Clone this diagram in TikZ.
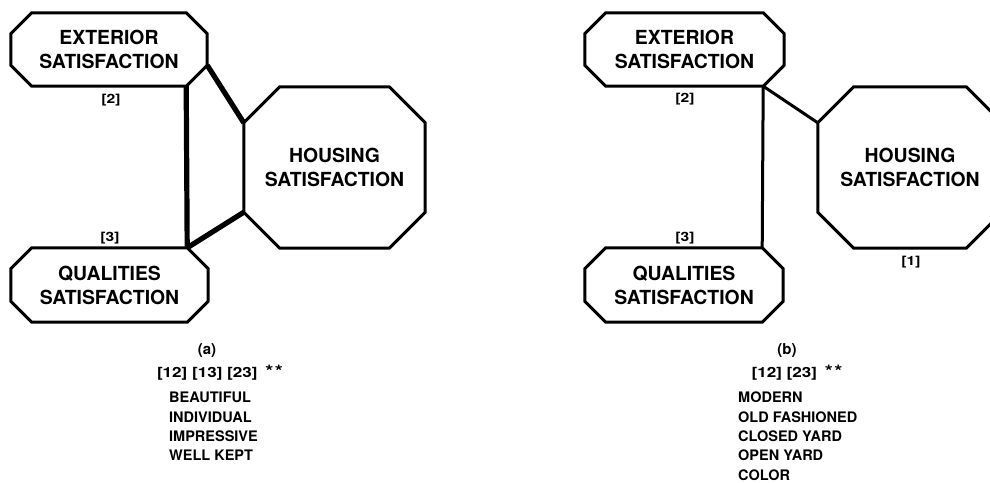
\documentclass[tikz,border=0pt]{standalone}
\usepackage{fontspec}
\setmainfont{TeX Gyre Heros}
\newfontfamily\tagfont[FakeStretch=1.22]{TeX Gyre Heros}
\usetikzlibrary{calc}

% Octagonal frame around a rectangular node: #1 node name, #2 chamfer (pt).
% Also names the eight corners so connectors can start from them.
\newcommand\octframe[2]{%
  \path (#1.north west) ++(#2pt,0pt)  coordinate (#1-nw1)
        (#1.north east) ++(-#2pt,0pt) coordinate (#1-ne1)
        (#1.north east) ++(0pt,-#2pt) coordinate (#1-ne2)
        (#1.south east) ++(0pt,#2pt)  coordinate (#1-se2)
        (#1.south east) ++(-#2pt,0pt) coordinate (#1-se1)
        (#1.south west) ++(#2pt,0pt)  coordinate (#1-sw1)
        (#1.south west) ++(0pt,#2pt)  coordinate (#1-sw2)
        (#1.north west) ++(0pt,-#2pt) coordinate (#1-nw2);
  \draw[frame] (#1-nw1) -- (#1-ne1) -- (#1-ne2) -- (#1-se2) -- (#1-se1)
    -- (#1-sw1) -- (#1-sw2) -- (#1-nw2) -- cycle;}

% large bold asterisks used after the index pairs
\newcommand\stars{{\fontsize{17}{17}\selectfont *\hspace{1.5pt}*}}

\tikzset{
  panelbox/.style={shape=rectangle, inner sep=0pt, align=center,
    font=\fontsize{19.4}{24}\selectfont\bfseries},
  frame/.style={line width=3pt, line join=miter},
  linkheavy/.style={line width=5.2pt},
  linklight/.style={line width=3pt},
  tag/.style={inner sep=0pt, font=\tagfont\fontsize{12.8}{12.8}\selectfont\bfseries},
  caption/.style={inner sep=0pt, font=\fontsize{15}{15}\selectfont\bfseries},
  pairs/.style={inner sep=0pt, font=\tagfont\fontsize{14}{14}\selectfont\bfseries},
  wordlist/.style={inner sep=0pt, anchor=north west, align=left,
    font=\fontsize{14.5}{19.3}\selectfont\bfseries},
}

\begin{document}
\begin{tikzpicture}[x=1pt, y=-1pt]
\useasboundingbox (0,0) rectangle (990,482);

% ---------- panel (a) ----------
\node[panelbox, minimum width=196pt, minimum height=73pt] (extA) at (109,49.5)
  {EXTERIOR\\SATISFACTION};
\node[panelbox, minimum width=181pt, minimum height=161pt] (housA) at (334.5,167.5)
  {HOUSING\\SATISFACTION};
\node[panelbox, minimum width=197pt, minimum height=74pt] (qualA) at (109.5,285)
  {QUALITIES\\SATISFACTION};
\octframe{extA}{21}
\octframe{housA}{36}
\octframe{qualA}{21}

\draw[linkheavy] (extA-se1) -- (qualA-ne1);
\draw[linkheavy] (extA-se2) -- (housA-nw2);
\draw[linkheavy] (housA-sw2) -- (qualA-ne1);

\node[tag] (tag2A) at (111,100) {[2]};
\node[tag] (tag3A) at (110,238) {[3]};

\node[caption] (capA) at (207,350.5) {(a)};
\node[pairs] (pairsA) at (220,373) {[12] [13] [23]\hspace{3pt} \stars};
\node[wordlist] (listA) at (169,392)
  {BEAUTIFUL\\INDIVIDUAL\\IMPRESSIVE\\WELL KEPT};

% ---------- panel (b) ----------
\node[panelbox, minimum width=199pt, minimum height=73pt] (extB) at (684.5,49.5)
  {EXTERIOR\\SATISFACTION};
\node[panelbox, minimum width=184pt, minimum height=161pt] (housB) at (910,167.5)
  {HOUSING\\SATISFACTION};
\node[panelbox, minimum width=198pt, minimum height=74pt] (qualB) at (684,285)
  {QUALITIES\\SATISFACTION};
\octframe{extB}{21}
\octframe{housB}{36}
\octframe{qualB}{21}

\draw[linklight] (extB-se1) -- (qualB-ne1);
\draw[linklight] (extB-se1) -- (housB-nw2);

\node[tag] (tag2B) at (685,99.5) {[2]};
\node[tag] (tag3B) at (685,238) {[3]};
\node[tag] (tag1B) at (911,262) {[1]};

\node[caption] (capB) at (787,350.5) {(b)};
\node[pairs] (pairsB) at (797,373) {[12] [23]\hspace{3pt} \stars};
\node[wordlist] (listB) at (738,392)
  {MODERN\\OLD FASHIONED\\CLOSED YARD\\OPEN YARD\\COLOR};
\end{tikzpicture}
\end{document}
